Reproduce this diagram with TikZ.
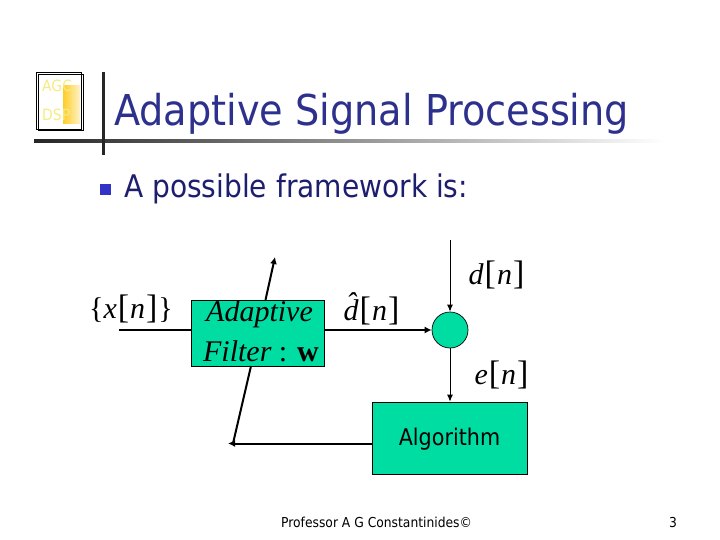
\documentclass[tikz,border=0pt]{standalone}
\usepackage{fontspec}
\setmainfont{DejaVu Sans Condensed}
\newfontfamily\mathserif{Liberation Serif}
\usetikzlibrary{arrows.meta}
\definecolor{boxgreen}{RGB}{0,221,163}
\definecolor{titleblue}{RGB}{45,48,140}
\definecolor{bodyblue}{RGB}{30,30,110}
\definecolor{bulletblue}{RGB}{50,50,200}
\definecolor{logoyellow}{RGB}{255,205,40}
\definecolor{logotext}{RGB}{245,235,130}
\newcommand{\mi}[1]{{\itshape #1}}
\newcommand{\br}[1]{{\fontsize{34}{34}\selectfont\kern1pt #1\kern1pt}}
\tikzset{
  thickline/.style={line width=2pt,-{Latex[length=7pt,width=7pt]}},
  plainline/.style={line width=2pt},
  thinline/.style={line width=.9pt,-{Latex[length=7pt,width=6pt]}},
  greenbox/.style={draw=black,line width=.7pt,fill=boxgreen,inner sep=0pt},
  mathlab/.style={inner sep=0pt,font=\mathserif\fontsize{30}{30}\selectfont},
  filtertext/.style={inner sep=0pt,font=\mathserif\fontsize{30}{30}\selectfont},
}
\begin{document}
\begin{tikzpicture}[x=1pt,y=-1pt]
\useasboundingbox (0,0) rectangle (720,540);
% logo
\fill[left color=logoyellow,right color=logoyellow!25] (63,86) rectangle (80,124);
\draw[line width=.6pt] (36.5,72.5) rectangle (81,129);
\draw[line width=.6pt] (38,74) rectangle (83,130.5);
\node[inner sep=0pt,anchor=west,text=logotext,font=\fontsize{15.5}{16}\selectfont] (agc) at (42,86) {AGC};
\node[inner sep=0pt,anchor=west,text=logotext,font=\fontsize{15.5}{16}\selectfont] (dsp) at (42,115) {DSP};
% rules
\fill[left color=black!85,right color=white] (34,140) rectangle (665,142.5);
\fill[black!85] (102,72) rectangle (105,155);
% title
\node[inner sep=0pt,anchor=base west,text=titleblue,font=\fontsize{42.5}{43}\selectfont] (title) at (114,126) {Adaptive Signal Processing};
\node[fill=bulletblue,inner sep=0pt,minimum size=11pt] (bullet) at (105,189.5) {};
\node[inner sep=0pt,anchor=base west,text=bodyblue,font=\fontsize{31.2}{32}\selectfont] (body) at (124,197) {A possible framework is:};
% diagram
\node[greenbox,minimum width=133pt,minimum height=66pt] (filter) at (257.5,333) {};
\node[filtertext] (ftext1) at (259.5,314) {\mi{Adaptive}};
\node[filtertext] (ftext2) at (261,351) {\mi{Filter} : \textbf{w}};
\node[circle,draw=black,line width=.7pt,fill=boxgreen,minimum size=36pt,inner sep=0pt] (sum) at (450,330) {};
\node[greenbox,minimum width=155pt,minimum height=72pt] (algo) at (449.5,438) {};
\node[inner sep=0pt,font=\fontsize{23}{23}\selectfont] (algotext) at (449.5,439) {Algorithm};
\coordinate (xstart) at (119,330);
\coordinate (dstart) at (450,240);
\coordinate (algoturn) at (228,443.5);
\coordinate (adapttop) at (275,257);
\coordinate (algoleft) at (372,443.5);
\draw[plainline] (xstart) -- (filter.west |- xstart);
\draw[thickline] (filter.east |- xstart) -- (sum.west);
\draw[thinline] (dstart) -- (sum.north);
\draw[thinline] (sum.south) -- (algo.north -| sum.south);
\draw[thickline] (algoleft) -- (algoturn);
\draw[plainline] (233,443.5) -- (251,366);
\draw[thickline] (265.5,300) -- (adapttop);
\node[mathlab,anchor=base] (xlab) at (131,318) {\{\mi{x}\br{[}\mi{n}\br{]}\}};
\node[mathlab,anchor=base] (dhat) at (372,320) {\mi{d^^^^0302}\br{[}\mi{n}\br{]}};
\node[mathlab,anchor=base] (dlab) at (497,284) {\mi{d}\br{[}\mi{n}\br{]}};
\node[mathlab,anchor=base] (elab) at (502,384) {\mi{e}\br{[}\mi{n}\br{]}};
% footer
\node[inner sep=0pt,anchor=base west,font=\fontsize{13.7}{14}\selectfont] (foot) at (281,527) {Professor A G Constantinides©};
\node[inner sep=0pt,anchor=base west,font=\fontsize{13.7}{14}\selectfont] (page) at (669,527) {3};
\end{tikzpicture}
\end{document}
